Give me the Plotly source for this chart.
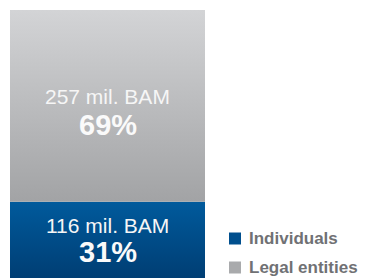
import plotly.graph_objects as go

categories = ["Individuals", "Legal entities"]
values_mil_bam = [116, 257]
shares_pct = [31, 69]
colorscales = [
    [[0, "#003a6e"], [1, "#005a9c"]],
    [[0, "#a2a3a5"], [1, "#d3d4d6"]],
]
legend_colors = ["#004f8e", "#a9aaac"]

W, H = 366, 280
fig = go.Figure()

total = sum(values_mil_bam)
base = 0
bounds = []
for cat, v, cs in zip(categories, values_mil_bam, colorscales):
    y0, y1 = base, base + v
    bounds.append((y0, y1))
    fig.add_trace(go.Scatter(
        x=[-0.5, 0.5, 0.5, -0.5, -0.5],
        y=[y0, y0, y1, y1, y0],
        mode="lines", fill="toself", line=dict(width=0),
        fillgradient=dict(type="vertical", colorscale=cs),
        name=cat, showlegend=False, hoverinfo="skip",
    ))
    base = y1

y_lo = 14
annotations = []
shifts = [(20, -7), (9, -19)]
for (y0, y1), v, p, (s1, s2) in zip(bounds, values_mil_bam, shares_pct, shifts):
    mid = (y0 + y1) / 2
    annotations.append(dict(x=0, y=mid, xref="x", yref="y", showarrow=False,
                            text=f"{v} mil. BAM", yshift=s1,
                            font=dict(family="Liberation Sans, Arial", size=21, color="#f6f6f6")))
    annotations.append(dict(x=0, y=mid, xref="x", yref="y", showarrow=False,
                            text=f"<b>{p}%</b>", yshift=s2,
                            font=dict(family="Liberation Sans, Arial", size=29, color="#fafafa")))

shapes = []
leg_rows = [238.5, 267.5]
for cat, col, yc in zip(categories, legend_colors, leg_rows):
    shapes.append(dict(type="rect", xref="paper", yref="paper",
                       x0=229 / W, x1=241 / W, y0=1 - (yc + 6) / H, y1=1 - (yc - 6) / H,
                       line=dict(width=0), fillcolor=col))
    annotations.append(dict(x=247 / W, y=1 - yc / H, xref="paper", yref="paper",
                            xanchor="left", yanchor="middle", showarrow=False, text=f"<b>{cat}</b>",
                            font=dict(family="Liberation Sans, Arial", size=17, color="#707174")))

fig.update_layout(
    width=W, height=H,
    margin=dict(l=0, r=0, t=0, b=0),
    paper_bgcolor="white", plot_bgcolor="white",
    xaxis=dict(domain=[10 / W, 205 / W], range=[-0.5, 0.5], visible=False, fixedrange=True),
    yaxis=dict(domain=[2 / H, 1 - 10 / H], range=[y_lo, total], visible=False, fixedrange=True),
    annotations=annotations, shapes=shapes, showlegend=False,
)
fig.write_html("out.html", config={"displayModeBar": False},
               post_script="document.body.style.margin='0';document.body.style.overflow='hidden';")
